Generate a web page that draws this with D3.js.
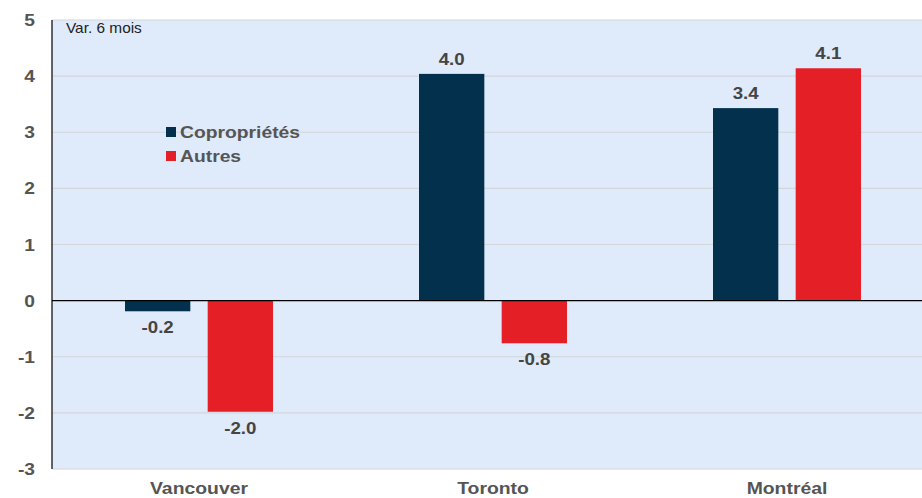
<!DOCTYPE html>
<html><head><meta charset="utf-8">
<script src="https://cdn.jsdelivr.net/npm/d3@7"></script>
<style>body{margin:0;background:#fff;}svg{display:block;} text{font-family:"Liberation Sans",Arial,sans-serif;}</style>
</head><body><svg id="c" width="922" height="498"></svg>
<script>
const categories = ["Vancouver", "Toronto", "Montréal"];
const seriesNames = ["Copropriétés", "Autres"];
const copro = [-0.19, 4.04, 3.43];
const autres = [-1.98, -0.76, 4.14];
const yTicks = [5, 4, 3, 2, 1, 0, -1, -2, -3];
const colors = ["#02304d", "#e41f26"];

const svg = d3.select("#c");
const pLeft = 52, pTop = 20, pBottom = 469, pRight = 922;
const y = d3.scaleLinear().domain([-3, 5]).range([pBottom, pTop]);
const x = d3.scaleBand().domain(categories).range([pLeft, pLeft + 3 * 294]).paddingInner(0).paddingOuter(0);
const xs = d3.scaleBand().domain(seriesNames).range([73, 221]).paddingInner(0.21);

function label(parent, tx, ty, str, opts) {
  const sx = opts.sx || 1.1;
  const gg = parent.append("g").attr("transform", `translate(${tx},${ty}) scale(${sx},1)`);
  gg.append("text").attr("x", 0).attr("y", 0)
    .attr("text-anchor", opts.anchor || "start")
    .attr("font-size", opts.size || 17)
    .attr("font-weight", opts.weight || "bold")
    .attr("fill", opts.fill || "#555")
    .text(str);
  return gg;
}

svg.append("rect").attr("x", pLeft).attr("y", pTop).attr("width", pRight - pLeft).attr("height", pBottom - pTop).attr("fill", "#dfeafb");

svg.append("g").selectAll("line").data(yTicks.filter(d => d !== 0)).join("line")
  .attr("x1", pLeft).attr("x2", pRight).attr("y1", d => y(d)).attr("y2", d => y(d))
  .attr("stroke", "#d3d6db").attr("stroke-width", 1.2);

const data = categories.map((c, i) => ({c, vals: [copro[i], autres[i]]}));
const g = svg.append("g");
data.forEach(d => {
  d.vals.forEach((v, j) => {
    const bx = x(d.c) + xs(seriesNames[j]);
    g.append("rect").attr("x", bx).attr("width", xs.bandwidth())
      .attr("y", y(Math.max(0, v))).attr("height", Math.abs(y(v) - y(0)))
      .attr("fill", colors[j]);
    label(g, bx + xs.bandwidth() / 2, v >= 0 ? y(v) - 9 : y(v) + 22, v.toFixed(1),
      {anchor: "middle", fill: "#444", size: 17, sx: 1.1});
  });
});

svg.append("line").attr("x1", pLeft).attr("x2", pRight).attr("y1", y(0)).attr("y2", y(0)).attr("stroke", "#000").attr("stroke-width", 1.2);
svg.append("line").attr("x1", pLeft).attr("x2", pLeft).attr("y1", pTop).attr("y2", pBottom).attr("stroke", "#000").attr("stroke-width", 1.2);

const ya = svg.append("g");
yTicks.forEach(t => label(ya, 35, y(t) + 6, String(t), {anchor: "end", size: 16, sx: 1.2}));

const xa = svg.append("g");
categories.forEach(c => label(xa, x(c) + x.bandwidth() / 2, 494, c, {anchor: "middle", size: 17, sx: 1.14}));

label(svg, 66, 33, "Var. 6 mois", {size: 14, weight: "normal", fill: "#222", sx: 1.1});

const leg = svg.append("g");
seriesNames.forEach((s, i) => {
  leg.append("rect").attr("x", 166).attr("y", 127 + i * 24).attr("width", 10).attr("height", 10).attr("fill", colors[i]);
  label(leg, 180, 138 + i * 24, s, {size: 16.5, sx: 1.17});
});
</script></body></html>
